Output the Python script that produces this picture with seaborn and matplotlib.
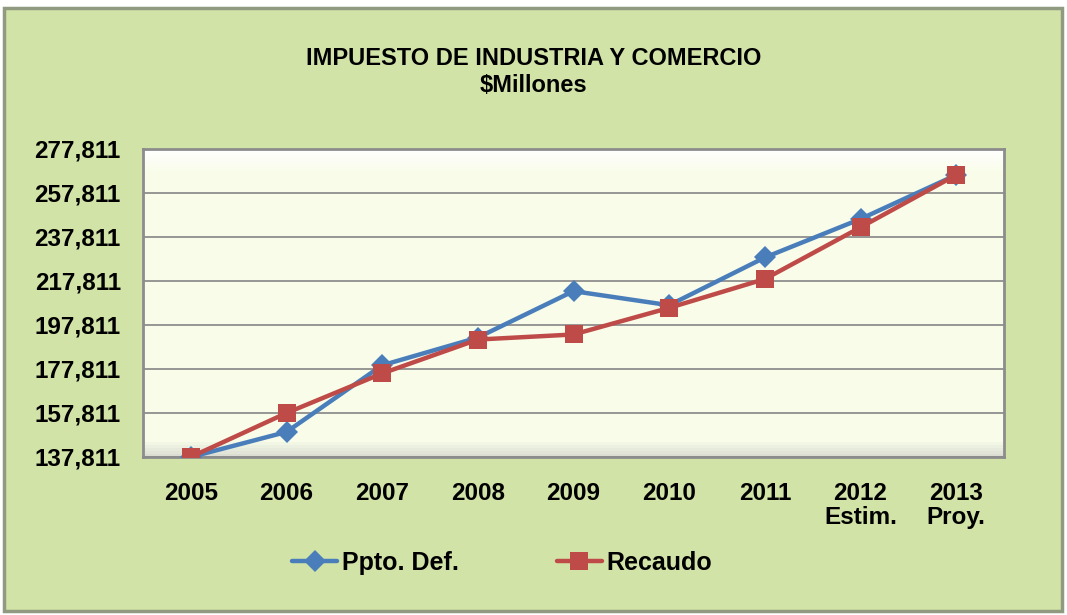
import numpy as np
import pandas as pd
import seaborn as sns
import matplotlib.pyplot as plt
from matplotlib.patches import Rectangle
from matplotlib.ticker import FixedLocator, FuncFormatter

# values ($ millones)
years = ['2005', '2006', '2007', '2008', '2009', '2010', '2011', '2012\nEstim.', '2013\nProy.']
ppto_def = [137811, 149200, 179500, 192100, 213200, 206800, 228500, 246000, 266000]
recaudo = [137811, 157800, 175800, 191200, 193500, 205600, 218700, 242200, 266000]
y_ticks = [137811, 157811, 177811, 197811, 217811, 237811, 257811, 277811]

df = pd.DataFrame({
    'Year': years * 2,
    'Value': ppto_def + recaudo,
    'Serie': ['Ppto. Def.'] * len(years) + ['Recaudo'] * len(years),
})

sns.set_style('white')
plt.rcParams['font.family'] = ['Liberation Sans', 'DejaVu Sans']
plt.rcParams['font.weight'] = 'bold'
plt.rcParams['text.color'] = 'black'
plt.rcParams['xtick.labelcolor'] = 'black'
plt.rcParams['ytick.labelcolor'] = 'black'

bg = '#D2E3A8'
fig = plt.figure(figsize=(10.67, 6.15), dpi=100)
fig.patch.set_facecolor('white')
# outer chart frame
fig.patches.append(Rectangle((4 / 1067, 1 - 611 / 615), 1058 / 1067, 603 / 615,
                             transform=fig.transFigure, facecolor=bg,
                             edgecolor='#8f9a80', linewidth=2.5, zorder=-10))

ax = fig.add_axes([143 / 1067, 1 - 457 / 615, 861 / 1067, 308 / 615])

# plot-area fill: white top fading into pale yellow, grey bevel at the bottom
n_top, n_mid, n_low = 8, 86, 6
top = np.array([1.0, 1.0, 1.0])
mid = np.array([0.973, 0.992, 0.914])
low = np.array([0.86, 0.87, 0.83])
rows = [top * (1 - g) + mid * g for g in np.linspace(0, 1, n_top)]
rows += [mid] * n_mid
rows += [low * (1 - g) + mid * g for g in np.linspace(1, 0, n_low)]
img = np.array(rows)[:, None, :]
ax.imshow(img, extent=[0, 1, 0, 1], transform=ax.transAxes, aspect='auto', zorder=0)

sns.lineplot(data=df, x='Year', y='Value', hue='Serie', style='Serie',
             palette={'Ppto. Def.': '#4A7EBB', 'Recaudo': '#BE4B48'},
             markers={'Ppto. Def.': 'D', 'Recaudo': 's'}, dashes=False,
             linewidth=3.2, markersize=13, markeredgewidth=0, ax=ax, zorder=3)
# diamonds a bit smaller than the squares
for line in ax.lines:
    if line.get_marker() == 'D':
        line.set_markersize(11)

ax.set_xlim(-0.5, len(years) - 0.5)
ax.set_ylim(y_ticks[0], y_ticks[-1])
ax.yaxis.set_major_locator(FixedLocator(y_ticks))
ax.yaxis.set_major_formatter(FuncFormatter(lambda v, p: f'{v:,.0f}'))
ax.set_xticks(range(len(years)))
ax.set_xticklabels(years, fontsize=17.5, fontweight='bold', linespacing=1.05)
ax.set_xticks(np.arange(-0.5, len(years), 1), minor=True)
ax.tick_params(axis='x', which='major', length=0, pad=18)
ax.tick_params(axis='x', which='minor', length=6, width=1.5, color='#8c8c8c', direction='out')
ax.tick_params(axis='y', length=7, width=1.5, color='#8c8c8c', direction='out', pad=9, labelsize=17.5)
for lab in ax.get_yticklabels():
    lab.set_fontweight('bold')
ax.grid(axis='y', color='#8e8e8e', linewidth=1.3, zorder=1)
ax.set_axisbelow(True)
for side in ['left', 'bottom', 'top', 'right']:
    ax.spines[side].set_color('#8c8c8c')
    ax.spines[side].set_linewidth(2)
ax.set_xlabel('')
ax.set_ylabel('')

fig.text(0.5, 1 - 72 / 615, 'IMPUESTO DE INDUSTRIA Y COMERCIO\n$Millones', ha='center', va='center',
         fontsize=17, fontweight='bold', linespacing=1.2)

handles, labels = ax.get_legend_handles_labels()
ax.legend(handles, labels, loc='center', bbox_to_anchor=(0.471, 1 - 563 / 615),
          bbox_transform=fig.transFigure, ncol=2, frameon=False,
          handlelength=1.8, columnspacing=3.9, handletextpad=0.2,
          prop={'weight': 'bold', 'size': 18})

fig.savefig('out.png', dpi=100, facecolor=fig.get_facecolor())
